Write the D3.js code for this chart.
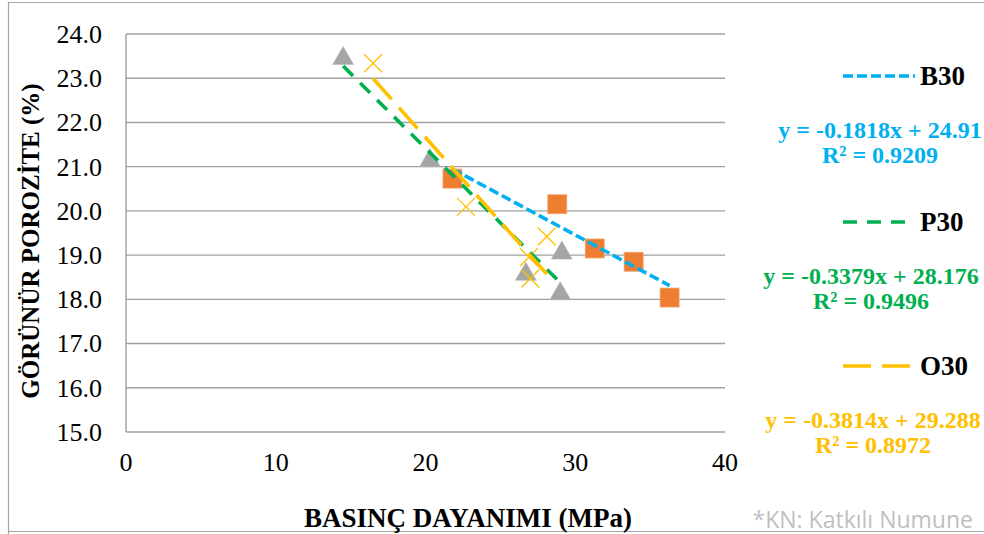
<!DOCTYPE html>
<html>
<head>
<meta charset="utf-8">
<script src="https://cdn.jsdelivr.net/npm/d3@7/dist/d3.min.js"></script>
<style>
  html, body { margin: 0; padding: 0; background: #fff; }
  svg { display: block; }
</style>
</head>
<body>
<svg id="chart" width="984" height="534"></svg>
<script>
// Compressive strength (MPa) vs apparent porosity (%) for three mixes
const seriesNames = ["B30", "P30", "O30"];
const b30Strength = [21.8, 28.8, 31.3, 33.9, 36.3];
const b30Porosity = [20.73, 20.15, 19.15, 18.85, 18.04];
const p30Strength = [14.5, 20.3, 26.7, 29.1, 29.0];
const p30Porosity = [23.48, 21.17, 18.6, 19.08, 18.16];
const o30Strength = [16.5, 22.7, 28.1, 26.9, 27.0];
const o30Porosity = [23.34, 20.09, 19.42, 18.95, 18.47];

// Linear fits: [slope, intercept, R²]
const b30Fit = [-0.1818, 24.91, 0.9209];
const p30Fit = [-0.3379, 28.176, 0.9496];
const o30Fit = [-0.3814, 29.288, 0.8972];

const xTicks = [0, 10, 20, 30, 40];
const yTicks = [15, 16, 17, 18, 19, 20, 21, 22, 23, 24];

const colors = {
  B30: "#00B0F0", P30: "#00B050", O30: "#FFC000",
  square: "#ED7D31", triangle: "#A5A5A5", cross: "#FFC000"
};

const svg = d3.select("#chart");

// outer chart frame
svg.append("path")
  .attr("d", "M8.5,534 L8.5,2.5 L984,2.5 M8.5,531.5 L984,531.5")
  .attr("fill", "none").attr("stroke", "#A6A6A6").attr("stroke-width", 1.2);

const x = d3.scaleLinear().domain([0, 40]).range([126, 725]);
const y = d3.scaleLinear().domain([15, 24]).range([432, 34]);

// horizontal gridlines
svg.append("g").selectAll("line").data(yTicks).join("line")
  .attr("x1", x(0)).attr("x2", x(40))
  .attr("y1", d => y(d)).attr("y2", d => y(d))
  .attr("stroke", "#A0A0A0").attr("stroke-width", 1.4);

// vertical axis line
svg.append("line")
  .attr("x1", x(0)).attr("x2", x(0)).attr("y1", y(24)).attr("y2", y(15))
  .attr("stroke", "#A0A0A0").attr("stroke-width", 1.4);

const serif = "'Liberation Serif', 'Times New Roman', serif";

// y tick labels
svg.append("g").selectAll("text").data(yTicks).join("text")
  .attr("x", 102).attr("y", d => y(d)).attr("dy", "0.34em")
  .attr("text-anchor", "end")
  .attr("font-family", serif).attr("font-size", 26).attr("fill", "#000")
  .text(d => d3.format(".1f")(d));

// x tick labels
svg.append("g").selectAll("text").data(xTicks).join("text")
  .attr("x", d => x(d)).attr("y", 471)
  .attr("text-anchor", "middle")
  .attr("font-family", serif).attr("font-size", 26).attr("fill", "#000")
  .text(d => d);

// axis titles
svg.append("text")
  .attr("transform", "translate(39,241) rotate(-90)")
  .attr("text-anchor", "middle")
  .attr("font-family", serif).attr("font-size", 25).attr("font-weight", "bold")
  .text("GÖRÜNÜR POROZİTE (%)");

svg.append("text")
  .attr("x", 468).attr("y", 527)
  .attr("text-anchor", "middle")
  .attr("font-family", serif).attr("font-size", 27).attr("font-weight", "bold")
  .text("BASINÇ DAYANIMI (MPa)");

// markers
const zip = (xs, ys) => xs.map((v, i) => [v, ys[i]]);
const markers = svg.append("g");

markers.selectAll(".sq").data(zip(b30Strength, b30Porosity)).join("rect")
  .attr("x", d => x(d[0]) - 9.5).attr("y", d => y(d[1]) - 9.5)
  .attr("width", 19).attr("height", 19)
  .attr("fill", colors.square).attr("stroke", "#F3A674").attr("stroke-width", 0.8);

const tri = d3.symbol().type(d3.symbolTriangle).size(190);
markers.selectAll(".tri").data(zip(p30Strength, p30Porosity)).join("path")
  .attr("d", tri)
  .attr("transform", d => `translate(${x(d[0])},${y(d[1]) + 1.5})`)
  .attr("fill", colors.triangle).attr("stroke", "#B8B8B8").attr("stroke-width", 0.6);

markers.selectAll(".cross").data(zip(o30Strength, o30Porosity)).join("path")
  .attr("d", "M-9,-9L9,9M-9,9L9,-9")
  .attr("transform", d => `translate(${x(d[0])},${y(d[1])})`)
  .attr("fill", "none").attr("stroke", colors.cross).attr("stroke-width", 1.3);

// trendlines
const dashes = { B30: "10,4", P30: "14,10", O30: "28,11" };
const fits = [
  ["B30", b30Fit, b30Strength],
  ["P30", p30Fit, p30Strength],
  ["O30", o30Fit, o30Strength]
];
const lineGen = d3.line().x(d => x(d[0])).y(d => y(d[1]));
fits.forEach(([name, fit, xs]) => {
  const [lo, hi] = d3.extent(xs);
  const pts = [lo, hi].map(v => [v, fit[0] * v + fit[1]]);
  svg.append("path")
    .attr("d", lineGen(pts))
    .attr("fill", "none")
    .attr("stroke", colors[name]).attr("stroke-width", 3.6)
    .attr("stroke-dasharray", dashes[name]);
});

// legend with equations
const legendY = { B30: 76, P30: 222, O30: 366 };
const eqCx = { B30: 880, P30: 871, O30: 873 };
const fitByName = { B30: b30Fit, P30: p30Fit, O30: o30Fit };
seriesNames.forEach(name => {
  const ly = legendY[name];
  svg.append("line")
    .attr("x1", 843).attr("x2", 915).attr("y1", ly).attr("y2", ly)
    .attr("stroke", colors[name]).attr("stroke-width", 3.6)
    .attr("stroke-dasharray", dashes[name]);
  svg.append("text")
    .attr("x", 920).attr("y", ly).attr("dy", "0.35em")
    .attr("font-family", serif).attr("font-size", 27).attr("font-weight", "bold")
    .attr("fill", "#000").text(name);
  const f = fitByName[name];
  const eq = `y = ${f[0]}x + ${f[1]}`;
  svg.append("text")
    .attr("x", eqCx[name]).attr("y", ly + 54).attr("dy", "0.35em")
    .attr("text-anchor", "middle")
    .attr("font-family", serif).attr("font-size", 24).attr("font-weight", "bold")
    .attr("fill", colors[name]).text(eq);
  svg.append("text")
    .attr("x", eqCx[name]).attr("y", ly + 79).attr("dy", "0.35em")
    .attr("text-anchor", "middle")
    .attr("font-family", serif).attr("font-size", 24).attr("font-weight", "bold")
    .attr("fill", colors[name]).text(`R² = ${f[2]}`);
});

// footnote
svg.append("text")
  .attr("x", 973).attr("y", 528)
  .attr("text-anchor", "end")
  .attr("font-family", "'Open Sans', 'Noto Sans', sans-serif").attr("font-size", 23)
  .attr("fill", "#BFBFBF")
  .text("*KN: Katkılı Numune");
</script>
</body>
</html>
